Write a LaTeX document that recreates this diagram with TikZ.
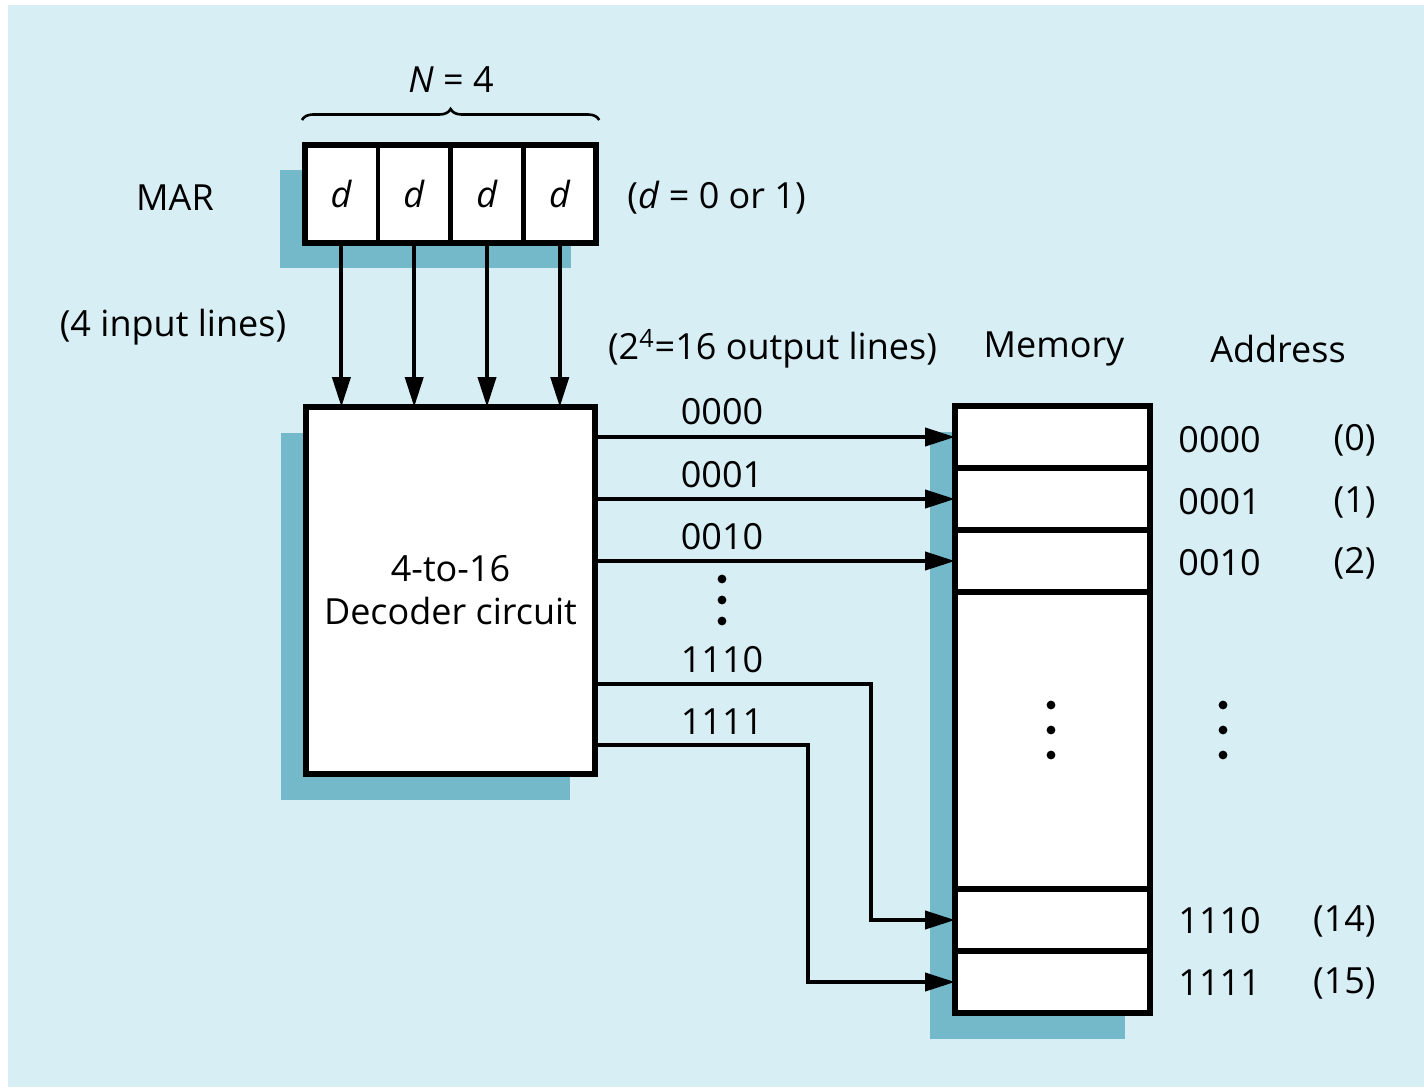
\documentclass[tikz,border=0pt]{standalone}
\usepackage{fontspec}
\setmainfont{Open Sans}
\usepackage{tikz}
\usetikzlibrary{arrows.meta,positioning,calc,decorations.pathreplacing}
\definecolor{panelblue}{HTML}{D8EEF5}
\definecolor{shadowteal}{HTML}{74B9CA}
\pgfdeclarelayer{background}
\pgfsetlayers{background,main}

\begin{document}
\begin{tikzpicture}[x=0.5pt, y=-0.5pt, >={Triangle[length=15pt,width=9pt]}, font=\fontsize{18}{21.5}\selectfont]
\tikzstyle{bitcell}=[draw, fill=white, line width=2.2pt, outer sep=0pt, inner sep=0pt, minimum width=36.4pt, minimum height=49pt]
\tikzstyle{memcell}=[draw, fill=white, line width=2.6pt, outer sep=0pt, inner sep=0pt, minimum width=97.5pt, minimum height=31pt]
\tikzstyle{wire}=[line width=2pt]
\tikzstyle{txt}=[inner sep=0pt]
\useasboundingbox (0,0) rectangle (1424,1087);

% MAR register
\node[bitcell] (d1) at (341.4,194) {\textit{d}};
\node[bitcell, right=0pt of d1] (d2) {\textit{d}};
\node[bitcell, right=0pt of d2] (d3) {\textit{d}};
\node[bitcell, right=0pt of d3] (d4) {\textit{d}};
\draw[line width=3pt] (d1.north west) rectangle (d4.south east);
\node[txt] (mar) at (175,198) {MAR};
\node[txt, anchor=west] (dval) at (627,198) {(\textit{d} = 0 or 1)};
\draw[decorate, decoration={brace, amplitude=5.5pt}, line width=1.3pt] ($(d1.north west)+(-3,-25)$) -- ($(d4.north east)+(3,-25)$);
\node[txt] (nbits) at (451,80) {\textit{N} = 4};
\node[txt] (inlines) at (173,327) {(4 input lines)};

% decoder
\node[draw, fill=white, line width=3pt, outer sep=0pt, minimum width=144.5pt, minimum height=183.5pt, align=center] (dec) at (450.5,590.5) {4-to-16\\Decoder circuit};
\foreach \i in {1,...,4}
  \draw[wire,->] (d\i.south) -- (d\i.south |- dec.north);

% memory
\node[memcell] (m0) at (1052.5,437) {};
\node[memcell, below=0pt of m0] (m1) {};
\node[memcell, below=0pt of m1] (m2) {};
\node[memcell, below=0pt of m2, minimum height=148.5pt] (mdots) {};
\node[memcell, below=0pt of mdots] (m14) {};
\node[memcell, below=0pt of m14] (m15) {};
\draw[line width=3pt] (m0.north west) rectangle (m15.south east);
\node[txt] (outlines) at (772.5,349) {(2\textsuperscript{4}=16 output lines)};
\node[txt] (memlbl) at (1054,349) {Memory};
\node[txt] (addrlbl) at (1278,349) {Address};

% shadows
\begin{pgfonlayer}{background}
\fill[panelblue] (8,5) rectangle (1424,1087);
\fill[shadowteal] ($(d1.north west)+(-25,25)$) rectangle ($(d4.south east)+(-25,25)$);
\fill[shadowteal] ($(dec.north west)+(-25,26)$) rectangle ($(dec.south east)+(-25,26)$);
\fill[shadowteal] ($(m0.north west)+(-25,26)$) rectangle ($(m15.south east)+(-25,26)$);
\end{pgfonlayer}

% output lines
\draw[wire,->] (dec.east |- m0.west) -- (m0.west);
\draw[wire,->] (dec.east |- m1.west) -- (m1.west);
\draw[wire,->] (dec.east |- m2.west) -- (m2.west);
\coordinate (k14) at (871,684);
\coordinate (k15) at (808,745);
\draw[wire,->] (dec.east |- k14) -- (k14) |- (m14.west);
\draw[wire,->] (dec.east |- k15) -- (k15) |- (m15.west);
\node[txt] (o0) at (722,412) {0000};
\node[txt] (o1) at (722,475) {0001};
\node[txt] (o2) at (722,537) {0010};
\node[txt] (o14) at (722,660) {1110};
\node[txt] (o15) at (722,722) {1111};
\foreach \y in {579,600,621} \fill (722,\y) circle (2.2pt);

% addresses
\node[txt, anchor=west] (a0) at (1178,440) {0000};
\node[txt, anchor=west] (a1) at (1178,502) {0001};
\node[txt, anchor=west] (a2) at (1178,563) {0010};
\node[txt, anchor=west] (a14) at (1178,921) {1110};
\node[txt, anchor=west] (a15) at (1178,983) {1111};
\node[txt, anchor=east] (n0) at (1376,440) {(0)};
\node[txt, anchor=east] (n1) at (1376,502) {(1)};
\node[txt, anchor=east] (n2) at (1376,563) {(2)};
\node[txt, anchor=east] (n14) at (1376,921) {(14)};
\node[txt, anchor=east] (n15) at (1376,983) {(15)};
\foreach \y in {705,730,755} {
  \fill (1051,\y) circle (2.2pt);
  \fill (1223,\y) circle (2.2pt);
}
\end{tikzpicture}
\end{document}
